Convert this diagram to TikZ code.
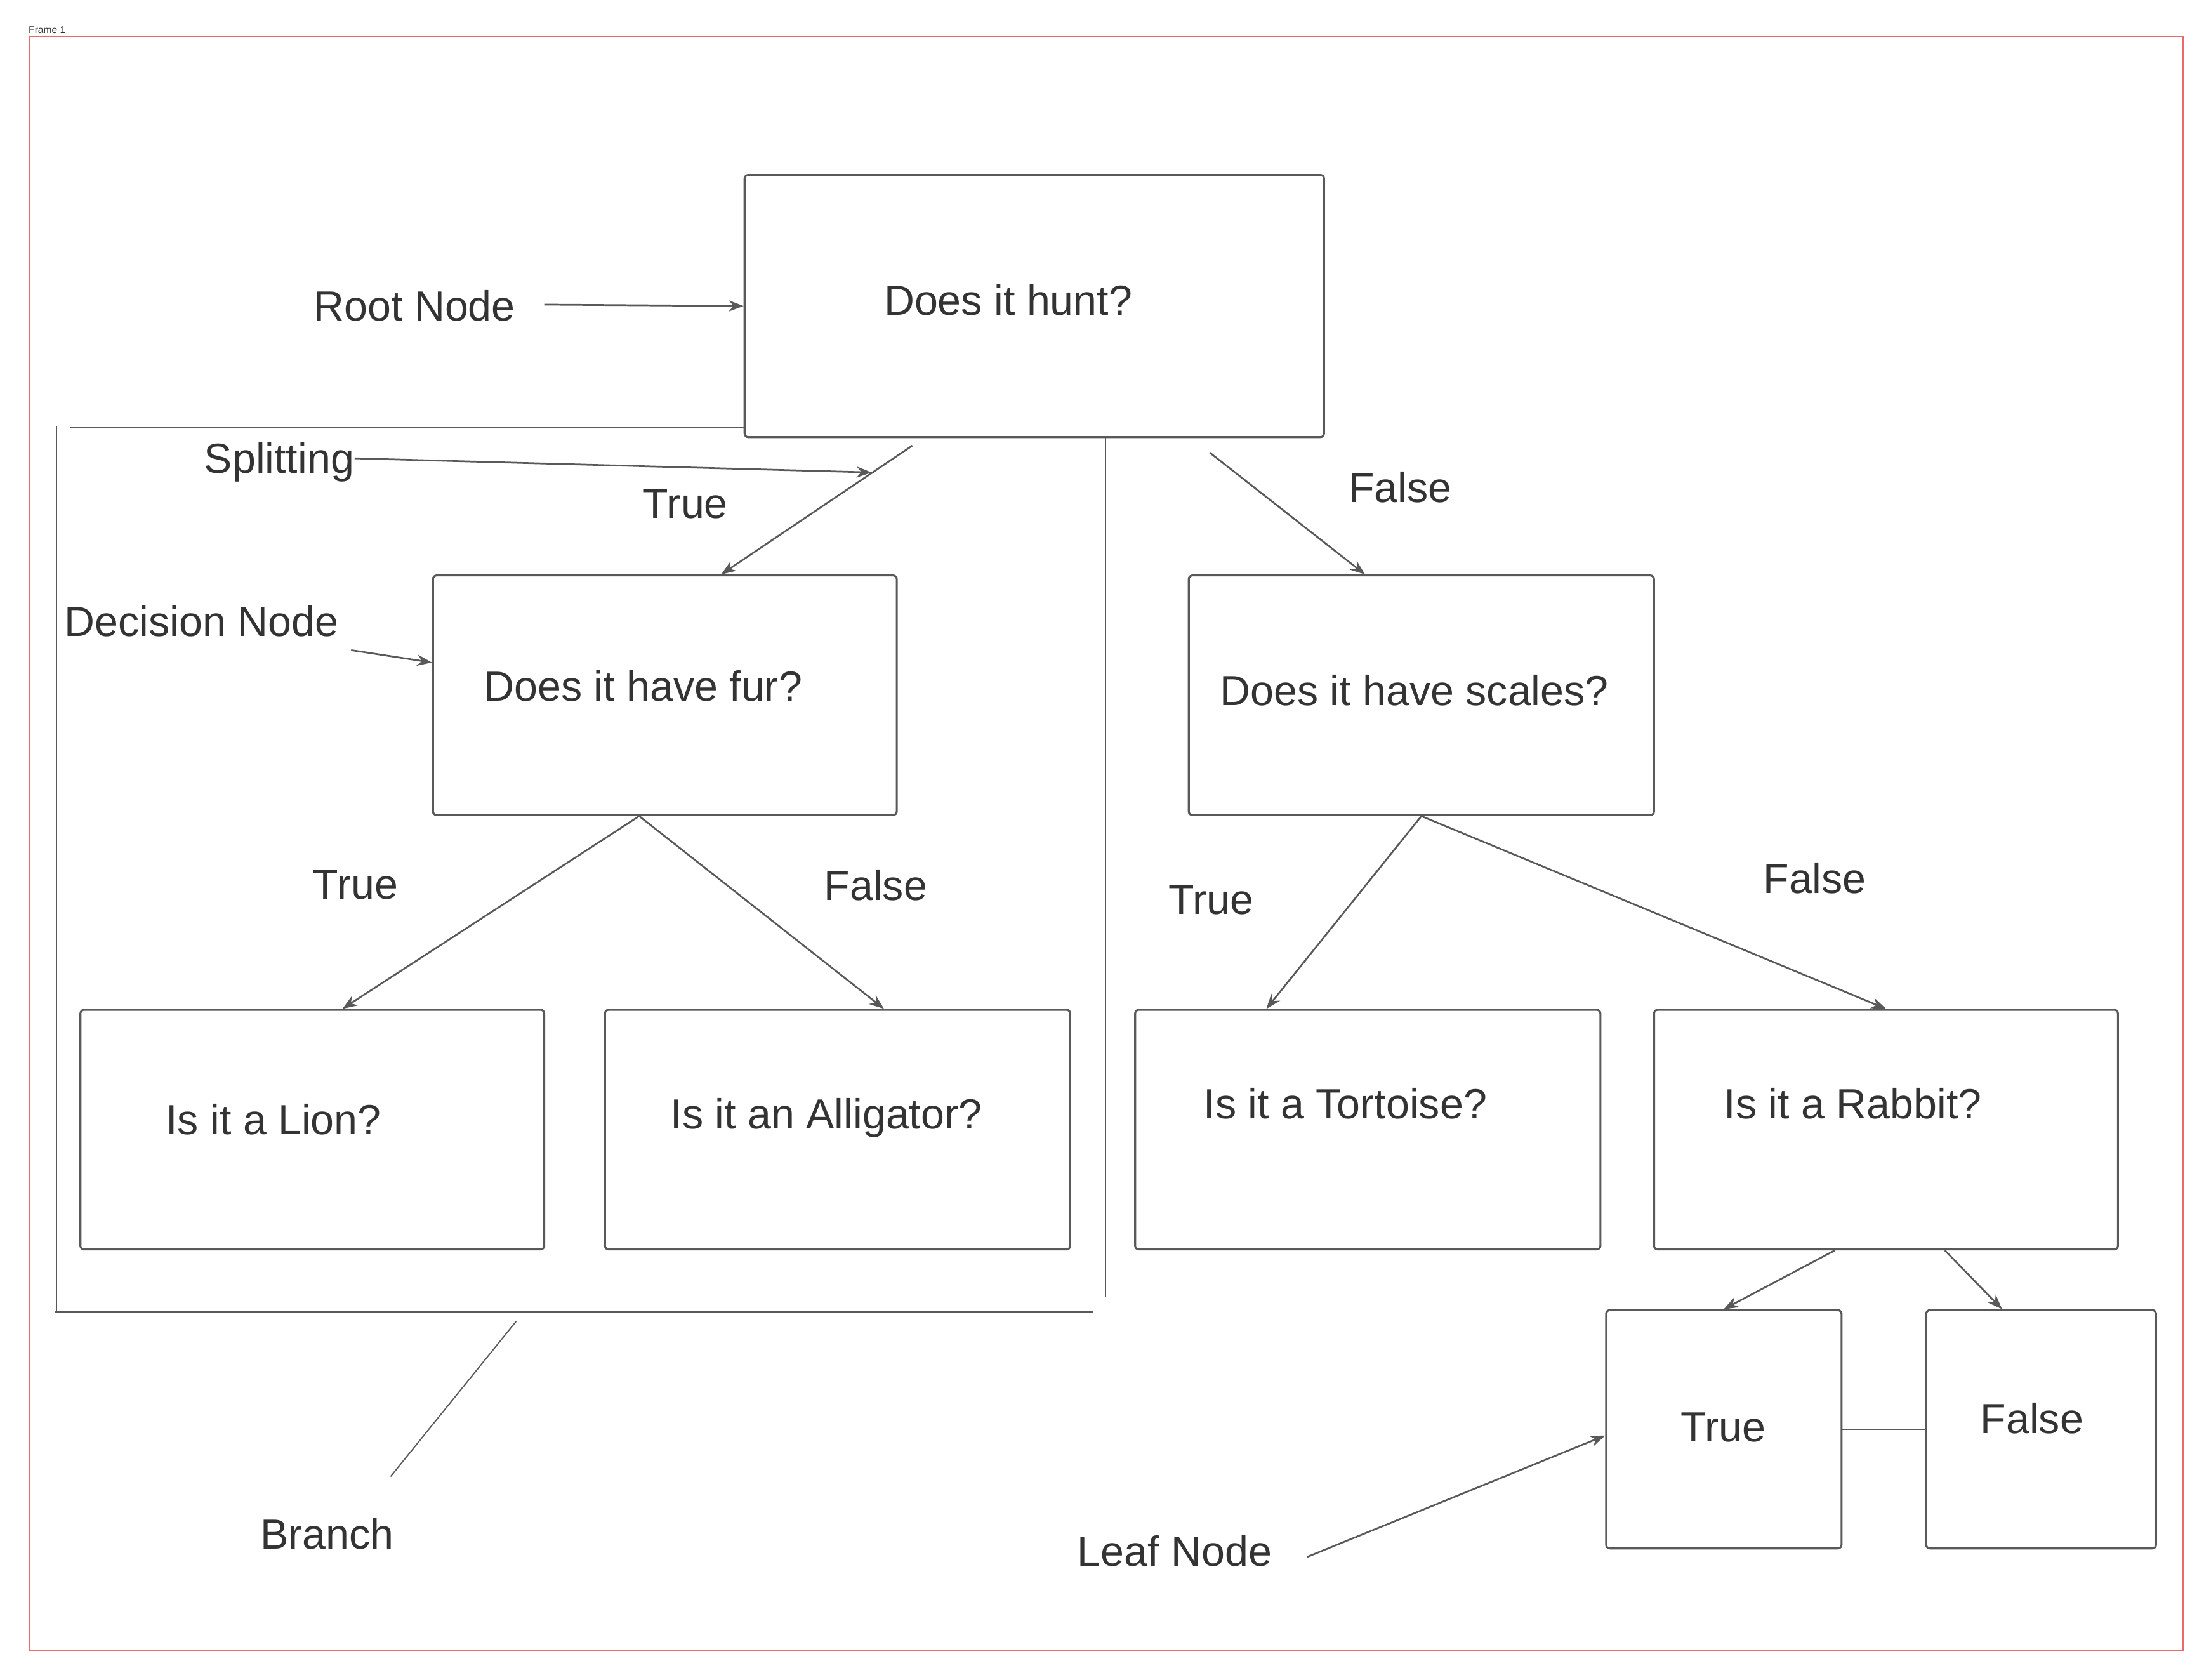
\documentclass[tikz,border=0pt]{standalone}
\usepackage{fontspec}
\setmainfont{Liberation Sans}
\usetikzlibrary{arrows.meta}
\definecolor{ink}{HTML}{333333}
\definecolor{linegray}{HTML}{595959}
\definecolor{framered}{HTML}{E86A6A}

\begin{document}
\begin{tikzpicture}[x=0.02cm,y=-0.02cm]
        \useasboundingbox (0,0) rectangle (1568,1191);
        \draw[framered,line width=0.5pt] (21,26) rectangle (1548,1170);
        \node (frame) [anchor=south west,inner sep=0pt,text=ink,font=\fontsize{4}{5}\selectfont] at (20,24) {Frame 1};
        \begin{scope}[every node/.style={draw=linegray,line width=0.8pt,rounded corners=1.5pt,inner sep=0pt,minimum height=3.4cm}]
            \node (root) [minimum width=8.22cm,minimum height=3.72cm] at (733.5,217) {};
            \node (fur) [minimum width=6.58cm] at (471.5,493) {};
            \node (scales) [minimum width=6.6cm] at (1008,493) {};
            \node (lion) [minimum width=6.58cm] at (221.5,801) {};
            \node (alligator) [minimum width=6.6cm] at (594,801) {};
            \node (tortoise) [minimum width=6.6cm] at (970,801) {};
            \node (rabbit) [minimum width=6.58cm] at (1337.5,801) {};
            \node (leafT) [minimum width=3.34cm,minimum height=3.38cm] at (1222.5,1013.5) {};
            \node (leafF) [minimum width=3.26cm,minimum height=3.38cm] at (1447.5,1013.5) {};
        \end{scope}
        \begin{scope}[every node/.style={inner sep=0pt,text=ink,font=\fontsize{17}{20}\selectfont,text height=1.5ex,text depth=0.25ex,yshift=-0.09cm}]
            \node (rootT) at (715,213) {Does it hunt?};
            \node (furT) at (456,487) {Does it have fur?};
            \node (scalesT) at (1003,490) {Does it have scales?};
            \node (lionT) at (194,794) {Is it a Lion?};
            \node (alligatorT) at (586,790) {Is it an Alligator?};
            \node (tortoiseT) at (954,783) {Is it a Tortoise?};
            \node (rabbitT) at (1314,783) {Is it a Rabbit?};
            \node (leafTT) at (1222,1012) {True};
            \node (leafFT) at (1441,1006) {False};
            \node (huntyes) at (486,357) {True};
            \node (huntno) at (993,346) {False};
            \node (furyes) at (252,627) {True};
            \node (furno) at (621,628) {False};
            \node (scalesyes) at (859,638) {True};
            \node (scalesno) at (1287,623) {False};
            \node (rootlbl) at (294,217) {Root Node};
            \node (splitlbl) at (198,325) {Splitting};
            \node (declbl) at (143,441) {Decision Node};
            \node (leaflbl) at (833,1100) {Leaf Node};
            \node (branchlbl) at (232,1088) {Branch};
        \end{scope}
        \coordinate (rootptr) at (386,216);
        \coordinate (splitpt) at (618,335);
        \coordinate (huntyesS) at (647,316);
        \coordinate (huntnoS) at (858,321);
        \coordinate (decptr) at (249,461);
        \coordinate (leafptr) at (927,1104);
        \begin{scope}[every edge/.style={draw=linegray,line width=0.7pt,-{Stealth[length=6pt,width=4.5pt]}}]
            \path
                (rootptr) edge (root.west)
                ([yshift=0.09cm]splitlbl.east) edge (splitpt)
                (huntyesS) edge (fur.65)
                (huntnoS) edge (scales.115)
                (decptr) edge (fur.172)
                (fur.258) edge (lion.76)
                (fur.258) edge (alligator.69)
                (scales.south) edge (tortoise.130)
                (scales.south) edge (rabbit.north)
                (rabbit.247) edge (leafT.north)
                (rabbit.-64) edge (leafF.108)
                (leafptr) edge (leafT.183);
        \end{scope}
        \draw[linegray,line width=0.7pt] (leafT.east) -- (leafF.west);
        % branch bracket
        \draw[linegray,line width=0.8pt] (50,303) -- (root.west |- 0,303);
        \draw[linegray,line width=0.6pt] (40,302) -- (40,930);
        \draw[linegray,line width=0.9pt] (39,930) -- (775,930);
        \draw[linegray,line width=0.6pt] (784,310) -- (784,920);
        \draw[linegray,line width=0.5pt] (366,937) -- (277,1047);
\end{tikzpicture}
\end{document}
